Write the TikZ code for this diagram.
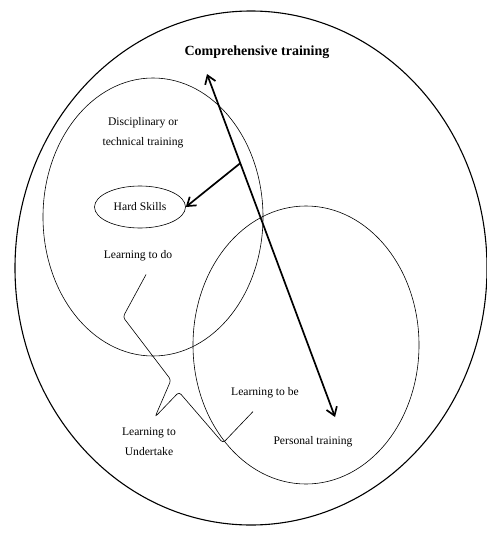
\documentclass[tikz,border=0pt]{standalone}
\usepackage{fontspec}
\setmainfont{Liberation Serif}
\usetikzlibrary{calc,arrows.meta,positioning,shapes.geometric}

\begin{document}
\begin{tikzpicture}[x=1pt, y=-1pt, line width=0.6pt,
    font=\fontsize{11.6}{20}\selectfont,
    ring/.style={draw, ellipse, inner sep=0pt},
    label/.style={align=center, inner sep=1pt},
    bigarrow/.style={line width=1.7pt, {Straight Barb[length=8pt,width=11pt]}-{Straight Barb[length=8pt,width=11pt]}}]
    \useasboundingbox (0,0) rectangle (487,538);
    % the three circles of training
    \node[ring, line width=1.1pt, minimum width=472, minimum height=514] (whole) at (251,268) {};
    \node[ring, minimum width=220, minimum height=278] (disc) at (153,217) {};
    \node[ring, minimum width=226, minimum height=278] (pers) at (306,345) {};
    \node[ring, minimum width=91, minimum height=42] (hard) at (140,207) {Hard Skills};
    % texts
    \node[label, font=\fontsize{14}{16}\selectfont\bfseries] (comp) at (257,52) {Comprehensive training};
    \node[label] (disctext) at (143,133) {Disciplinary or\\technical training};
    \node[label] (do) at (138,256) {Learning to do};
    \node[label] (be) at (265,393) {Learning to be};
    \node[label] (under) at (149,442) {Learning to\\Undertake};
    \node[label] (perstext) at (313,442) {Personal training};
    % arrows
    \coordinate (up) at (207,74);
    \coordinate (down) at (335,417);
    \draw[bigarrow] (up) -- (down);
    \coordinate (fork) at ($(up)!0.26!(down)$);
    \draw[line width=1.7pt, -{Straight Barb[length=8pt,width=11pt]}] (fork) -- (hard.east);
    % callout
    \draw[rounded corners=3pt] ($(do.south)+(8,12)$) -- (123,317) -- (171,380) -- (155,417)
        -- (179,392) -- (223,443) -- ($(be.south)+(-12,12)$);
\end{tikzpicture}
\end{document}
